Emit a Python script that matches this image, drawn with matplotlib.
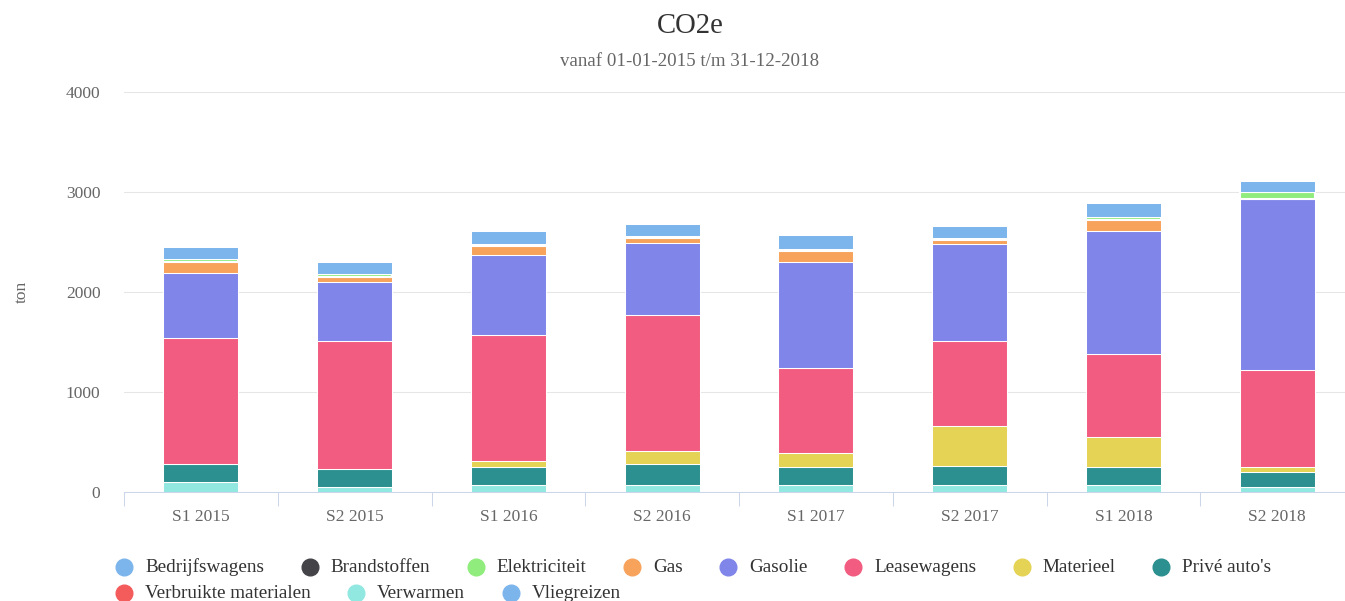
import matplotlib
matplotlib.use("Agg")
import matplotlib.pyplot as plt
from matplotlib.lines import Line2D
import numpy as np

# Periods on the x axis
periods = ["S1 2015", "S2 2015", "S1 2016", "S2 2016",
           "S1 2017", "S2 2017", "S1 2018", "S2 2018"]

# Emissions per source (ton CO2e) per half year
bedrijfswagens = [127, 120, 136, 120, 136, 125, 136, 110]
brandstoffen = [0, 0, 0, 0, 0, 0, 0, 0]
elektriciteit = [25, 21, 20, 20, 20, 15, 35, 75]
gas = [115, 50, 90, 46, 112, 46, 110, 0]
gasolie = [642, 591, 792, 722, 1056, 962, 1224, 1705]
leasewagens = [1264, 1284, 1264, 1364, 853, 853, 832, 973]
materieel = [0, 0, 65, 125, 145, 401, 304, 50]
prive_autos = [181, 181, 176, 211, 176, 191, 178, 151]
verbruikte_materialen = [0, 0, 0, 0, 0, 0, 0, 0]
verwarmen = [100, 50, 70, 70, 70, 70, 70, 50]
vliegreizen = [0, 0, 0, 0, 0, 0, 0, 0]

series_names = ["Bedrijfswagens", "Brandstoffen", "Elektriciteit", "Gas",
                "Gasolie", "Leasewagens", "Materieel", "Privé auto's",
                "Verbruikte materialen", "Verwarmen", "Vliegreizen"]
series_values = [bedrijfswagens, brandstoffen, elektriciteit, gas, gasolie,
                 leasewagens, materieel, prive_autos, verbruikte_materialen,
                 verwarmen, vliegreizen]
series_colors = ["#7cb5ec", "#434348", "#90ed7d", "#f7a35c", "#8085e9",
                 "#f15c80", "#e4d354", "#2b908f", "#f45b5b", "#91e8e1",
                 "#7cb5ec"]

y_ticks = [0, 1000, 2000, 3000, 4000]

plt.rcParams["font.family"] = ["Liberation Serif", "DejaVu Serif"]

W, H = 1345, 601
fig = plt.figure(figsize=(W / 100, H / 100), dpi=100)
fig.patch.set_facecolor("white")

# plot area in pixels
x0, x1 = 124, 1354
y0, y1 = 492, 92.3
ax = fig.add_axes([x0 / W, 1 - y0 / H, (x1 - x0) / W, (y0 - y1) / H])
ax.set_facecolor("white")

x = np.arange(len(periods))
bar_w = 0.488

# first series sits on top of the stack, so stack from the last one upward
bottom = np.zeros(len(periods))
for name, vals, col in reversed(list(zip(series_names, series_values, series_colors))):
    v = np.array(vals, dtype=float)
    # very thin segments get a wider white border so they read as a gap
    lw = 1.5 if name == "Elektriciteit" else 0.75
    ax.bar(x, v, bar_w, bottom=bottom, color=col, edgecolor="white",
           linewidth=lw, zorder=3)
    bottom += v

ax.set_xlim(-0.5, len(periods) - 0.5)
ax.set_ylim(0, 4000)

ax.set_yticks(y_ticks)
ax.set_yticklabels([str(t) for t in y_ticks])
ax.yaxis.grid(True, color="#e6e6e6", linewidth=0.75, zorder=0)
ax.tick_params(axis="y", length=0, pad=17, labelsize=12.5, labelcolor="#666666")

ax.set_xticks(x)
ax.set_xticklabels(periods)
ax.set_xticks(np.arange(-0.5, len(periods)), minor=True)
ax.tick_params(axis="x", which="major", length=0, pad=12, labelsize=12.5,
               labelcolor="#666666")
ax.tick_params(axis="x", which="minor", length=10, width=0.75, color="#ccd6eb",
               direction="out")

for s in ["top", "right", "left"]:
    ax.spines[s].set_visible(False)
ax.spines["bottom"].set_color("#ccd6eb")
ax.spines["bottom"].set_linewidth(0.75)
ax.spines["bottom"].set_zorder(4)

# titles
fig.text(690 / W, 1 - 26 / H, "CO2e", ha="center", va="center",
         fontsize=20.7, color="#333333")
fig.text(690 / W, 1 - 62 / H, "vanaf 01-01-2015 t/m 31-12-2018", ha="center",
         va="center", fontsize=13.6, color="#666666")
fig.text(22 / W, 1 - 292 / H, "ton", ha="center", va="center", rotation=90,
         fontsize=12.5, color="#666666")

# legend laid out item after item, wrapping to a second row
renderer = fig.canvas.get_renderer()
rows = [series_names[:8], series_names[8:]]
row_y = [567, 593]
idx = 0
for r, names in enumerate(rows):
    cx = 116.0
    for name in names:
        col = series_colors[idx]
        idx += 1
        fig.add_artist(Line2D([(cx + 8) / W], [1 - row_y[r] / H], marker="o",
                              markersize=12, color=col, linestyle="none",
                              transform=fig.transFigure))
        t = fig.text((cx + 29) / W, 1 - row_y[r] / H, name, ha="left",
                     va="center", fontsize=13.8, color="#333333")
        bb = t.get_window_extent(renderer)
        cx = bb.x1 + 37.5

fig.savefig("out.png", dpi=100, facecolor="white")
